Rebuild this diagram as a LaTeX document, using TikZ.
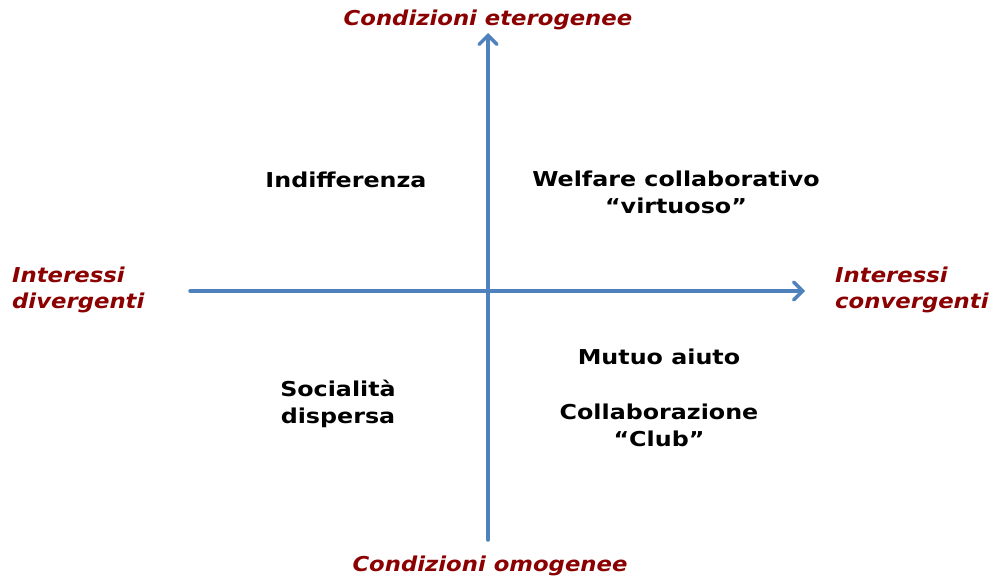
\documentclass[tikz,border=0pt]{standalone}
\usepackage{fontspec}
\setmainfont{DejaVu Sans}
\newfontfamily\quadfont[FakeStretch=1.16]{DejaVu Sans}
\newfontfamily\axfont[FakeStretch=1.11]{DejaVu Sans}
\usetikzlibrary{arrows.meta}
\definecolor{axisblue}{HTML}{4F81BD}
\definecolor{darkred}{HTML}{8B0000}
\tikzset{
  axis/.style={draw=axisblue, line width=3.5pt, line cap=round, -{Straight Barb[length=9pt,width=18pt,line cap=round]}},
  axislabel/.style={text=darkred, font=\axfont\fontsize{20.5}{26}\selectfont\bfseries\itshape, inner sep=0pt},
  quad/.style={text=black, font=\quadfont\fontsize{20.5}{27}\selectfont\bfseries, inner sep=0pt, align=center},
}
\begin{document}
\begin{tikzpicture}[x=1pt,y=-1pt]
\useasboundingbox (0,0) rectangle (993,581);
\coordinate (hl) at (190,291);
\coordinate (hr) at (805,291);
\coordinate (vb) at (488,540);
\coordinate (vt) at (488,33);
\draw[axis] (hl) -- (hr);
\draw[axis] (vb) -- (vt);
\node[axislabel] (top) at (488,20) {Condizioni eterogenee};
\node[axislabel] (bot) at (490,566) {Condizioni omogenee};
\node[axislabel, align=left, anchor=west] (left) at (12,290) {Interessi\\divergenti};
\node[axislabel, align=left, anchor=west] (right) at (835,290) {Interessi\\convergenti};
\node[quad] (q1) at (346,180) {Indifferenza};
\node[quad] (q2) at (676,192) {Welfare collaborativo\\“virtuoso”};
\node[quad] (q3) at (659,357) {Mutuo aiuto};
\node[quad] (q4) at (659,425) {Collaborazione\\“Club”};
\node[quad] (q5) at (338,404) {Socialità\\dispersa};
\end{tikzpicture}
\end{document}
